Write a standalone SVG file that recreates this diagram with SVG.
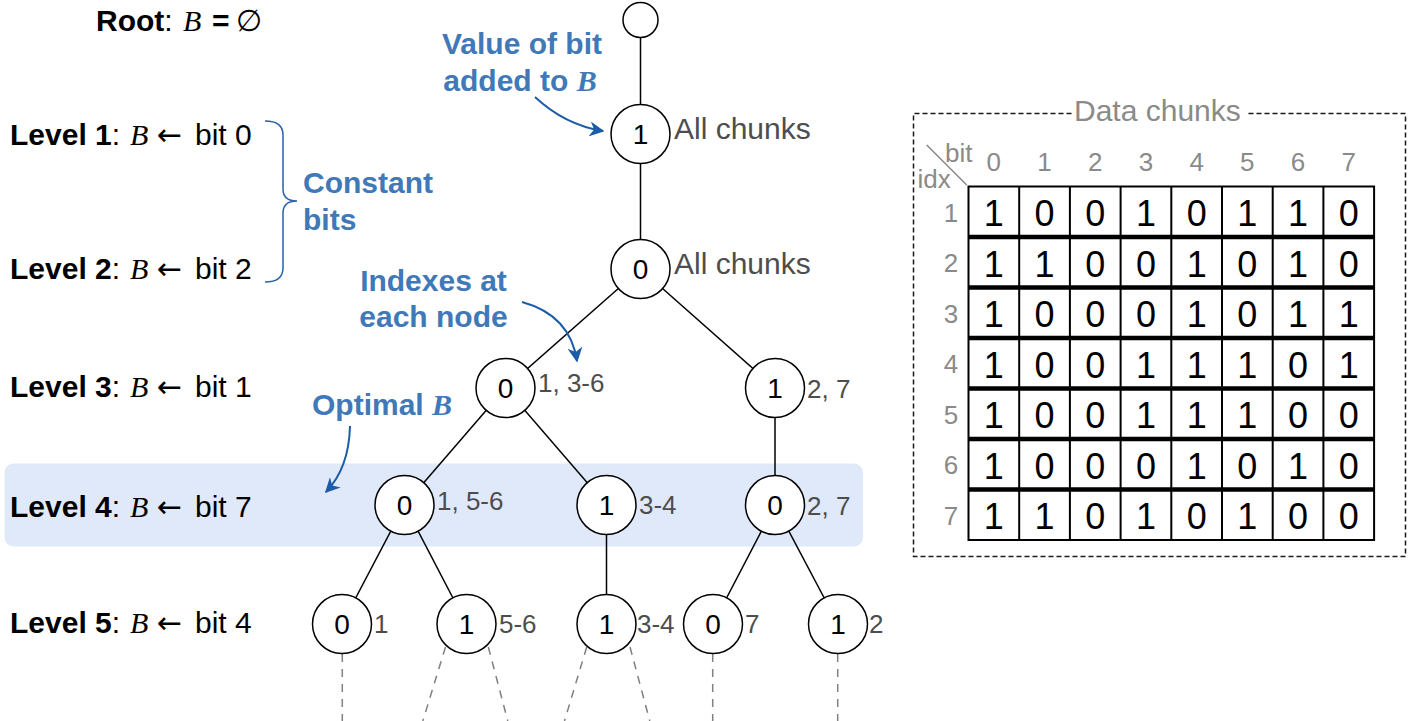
<svg xmlns="http://www.w3.org/2000/svg" width="1412" height="721" viewBox="0 0 1412 721">
<style>
text{font-family:"Liberation Sans",Arial,sans-serif}
.nd circle{fill:#fff;stroke:#000;stroke-width:1.5}
.dg{font-size:28px;text-anchor:middle;fill:#000}
.ix{font-size:26px;fill:#4d4d4d}
.ac{font-size:30px;fill:#4d4d4d}
.lv{font-size:30px;fill:#000}
.b{font-weight:bold}
.mi{font-family:"Liberation Serif","Times New Roman",serif;font-style:italic}
.sr{font-family:"DejaVu Serif","Liberation Serif",serif}
.ar{font-family:"DejaVu Sans",sans-serif;font-weight:normal}
.bl{font-size:30px;font-weight:bold;fill:#4078b8}
.edge{stroke:#000;stroke-width:1.5;fill:none}
.dash{stroke:#808080;stroke-width:1.5;stroke-dasharray:8 7;fill:none}
.ann{stroke:#1c5ca6;stroke-width:2;fill:none}
.gt{fill:#8a8a8a;font-size:26px}
.hd{text-anchor:middle}
.cd{font-size:36px;text-anchor:middle;fill:#000}
.grid{stroke:#000;stroke-width:2;fill:none}
.sep{stroke:#000;stroke-width:4.5}
</style>
<defs>
<marker id="arr" viewBox="0 0 10 10" refX="9" refY="5" markerWidth="15" markerHeight="15" markerUnits="userSpaceOnUse" orient="auto">
<path d="M0,0 L10,5 L0,10 L3,5 Z" fill="#1c5ca6"/>
</marker>
</defs>

<!-- highlight band -->
<rect id="optimal-band" x="4.5" y="463.5" width="858.5" height="83" rx="9" fill="#dfe9fa"/>

<!-- level labels -->
<g id="level-labels">
<text class="lv" x="96" y="31"><tspan class="b">Root</tspan>: <tspan class="mi" x="183">B</tspan><tspan class="b" x="212">=</tspan><tspan class="sr" x="236">∅</tspan></text>
<text class="lv" x="10" y="145"><tspan class="b">Level 1</tspan>:<tspan class="mi" x="130">B</tspan><tspan class="ar" x="157">←</tspan><tspan x="195">bit 0</tspan></text>
<text class="lv" x="10" y="279"><tspan class="b">Level 2</tspan>:<tspan class="mi" x="130">B</tspan><tspan class="ar" x="157">←</tspan><tspan x="195">bit 2</tspan></text>
<text class="lv" x="10" y="397"><tspan class="b">Level 3</tspan>:<tspan class="mi" x="130">B</tspan><tspan class="ar" x="157">←</tspan><tspan x="195">bit 1</tspan></text>
<text class="lv" x="10" y="517"><tspan class="b">Level 4</tspan>:<tspan class="mi" x="130">B</tspan><tspan class="ar" x="157">←</tspan><tspan x="195">bit 7</tspan></text>
<text class="lv" x="10" y="633"><tspan class="b">Level 5</tspan>:<tspan class="mi" x="130">B</tspan><tspan class="ar" x="157">←</tspan><tspan x="195">bit 4</tspan></text>
</g>

<!-- annotations -->
<g id="ann-constant">
<path d="M265,121 Q283,121 283,135 L283,189 Q283,201 297,201 Q283,201 283,213 L283,268 Q283,282 265,282" stroke="#2a62a8" stroke-width="1.5" fill="none"/>
<text class="bl" x="303" y="193">Constant</text>
<text class="bl" x="303" y="230">bits</text>
</g>
<g id="ann-value">
<text class="bl" x="522" y="54" text-anchor="middle">Value of bit</text>
<text class="bl" x="520" y="91" text-anchor="middle">added to <tspan class="mi">B</tspan></text>
</g>
<g id="ann-indexes">
<text class="bl" x="433.5" y="291" text-anchor="middle">Indexes at</text>
<text class="bl" x="433.5" y="327" text-anchor="middle">each node</text>
</g>
<g id="ann-optimal">
<text class="bl" x="312" y="415">Optimal <tspan class="mi">B</tspan></text>
</g>

<!-- connectors -->
<g id="connectors">
<line class="edge" x1="640.5" y1="20" x2="640.5" y2="134"/>
<line class="edge" x1="640.5" y1="134" x2="640.5" y2="269"/>
<line class="edge" x1="640.5" y1="269" x2="505.5" y2="388"/>
<line class="edge" x1="640.5" y1="269" x2="775" y2="388"/>
<line class="edge" x1="505.5" y1="388" x2="404.5" y2="505"/>
<line class="edge" x1="505.5" y1="388" x2="606.5" y2="505"/>
<line class="edge" x1="775" y1="388" x2="775" y2="505"/>
<line class="edge" x1="404.5" y1="505" x2="342" y2="624"/>
<line class="edge" x1="404.5" y1="505" x2="466.5" y2="624"/>
<line class="edge" x1="606.5" y1="505" x2="606.5" y2="624"/>
<line class="edge" x1="775" y1="505" x2="713" y2="624"/>
<line class="edge" x1="775" y1="505" x2="838" y2="624"/>
<line class="dash" x1="342.3" y1="654" x2="342.3" y2="721"/>
<line class="dash" x1="445.5" y1="647" x2="422.8" y2="721"/>
<line class="dash" x1="488.3" y1="647" x2="507.8" y2="721"/>
<line class="dash" x1="586.7" y1="647" x2="564.5" y2="721"/>
<line class="dash" x1="630" y1="647" x2="649.8" y2="721"/>
<line class="dash" x1="712.7" y1="654" x2="712.7" y2="721"/>
<line class="dash" x1="837.7" y1="654" x2="837.7" y2="721"/>
<path class="ann" d="M535,97 Q565,125 603,131" marker-end="url(#arr)"/>
<path class="ann" d="M522,302 Q570,315 577,361" marker-end="url(#arr)"/>
<path class="ann" d="M350,426 Q349,468 326,492" marker-end="url(#arr)"/>
</g>

<!-- nodes -->
<g id="node-root" class="nd"><circle cx="640.5" cy="20" r="17.5"/></g>
<g id="node-l1" class="nd"><circle cx="640.5" cy="134" r="29.5"/><text class="dg" x="640.5" y="144">1</text><text class="ac" x="674" y="139">All chunks</text></g>
<g id="node-l2" class="nd"><circle cx="640.5" cy="269" r="29.5"/><text class="dg" x="640.5" y="279">0</text><text class="ac" x="674" y="274">All chunks</text></g>
<g id="node-l3a" class="nd"><circle cx="505.5" cy="388" r="29.5"/><text class="dg" x="505.5" y="398">0</text><text class="ix" x="538" y="392">1, 3-6</text></g>
<g id="node-l3b" class="nd"><circle cx="775" cy="388" r="29.5"/><text class="dg" x="775" y="398">1</text><text class="ix" x="807" y="398">2, 7</text></g>
<g id="node-l4a" class="nd"><circle cx="404.5" cy="505" r="29.5"/><text class="dg" x="404.5" y="515">0</text><text class="ix" x="437" y="510">1, 5-6</text></g>
<g id="node-l4b" class="nd"><circle cx="606.5" cy="505" r="29.5"/><text class="dg" x="606.5" y="515">1</text><text class="ix" x="639" y="514">3-4</text></g>
<g id="node-l4c" class="nd"><circle cx="775" cy="505" r="29.5"/><text class="dg" x="775" y="515">0</text><text class="ix" x="807" y="515">2, 7</text></g>
<g id="node-l5a" class="nd"><circle cx="342" cy="624" r="29.5"/><text class="dg" x="342" y="634">0</text><text class="ix" x="374" y="633">1</text></g>
<g id="node-l5b" class="nd"><circle cx="466.5" cy="624" r="29.5"/><text class="dg" x="466.5" y="634">1</text><text class="ix" x="499" y="633">5-6</text></g>
<g id="node-l5c" class="nd"><circle cx="606.5" cy="624" r="29.5"/><text class="dg" x="606.5" y="634">1</text><text class="ix" x="637" y="633">3-4</text></g>
<g id="node-l5d" class="nd"><circle cx="713" cy="624" r="29.5"/><text class="dg" x="713" y="634">0</text><text class="ix" x="745" y="633">7</text></g>
<g id="node-l5e" class="nd"><circle cx="838" cy="624" r="29.5"/><text class="dg" x="838" y="634">1</text><text class="ix" x="869" y="633">2</text></g>

<!-- data chunks table -->
<g id="data-chunks">
<path d="M1071.5,113.5 H913.5 V556.5 H1405.5 V113.5 H1248.5" stroke="#1a1a1a" stroke-width="1.5" stroke-dasharray="5 3" fill="none"/>
<text x="1074" y="121" font-size="30" fill="#8a8a8a">Data chunks</text>
<line x1="926.7" y1="145" x2="966.7" y2="185" stroke="#8a8a8a" stroke-width="1.5"/>
<text class="gt" x="945" y="162">bit</text>
<text class="gt" x="917.5" y="188">idx</text>
<g class="gt hd">
<text x="993.85" y="171">0</text><text x="1044.55" y="171">1</text><text x="1095.25" y="171">2</text><text x="1145.95" y="171">3</text><text x="1196.65" y="171">4</text><text x="1247.35" y="171">5</text><text x="1298.05" y="171">6</text><text x="1348.75" y="171">7</text>
<text x="951" y="221.75">1</text><text x="951" y="272.25">2</text><text x="951" y="322.75">3</text><text x="951" y="373.25">4</text><text x="951" y="423.75">5</text><text x="951" y="474.25">6</text><text x="951" y="524.75">7</text>
</g>
<rect class="grid" x="968.5" y="186.5" width="405.6" height="353.5" fill="#fff"/>
<path class="grid" d="M1019.2,186.5V540 M1069.9,186.5V540 M1120.6,186.5V540 M1171.3,186.5V540 M1222,186.5V540 M1272.7,186.5V540 M1323.4,186.5V540"/>
<path class="sep" d="M968.5,237H1374.1 M968.5,287.5H1374.1 M968.5,338H1374.1 M968.5,388.5H1374.1 M968.5,439H1374.1 M968.5,489.5H1374.1"/>
<g class="cd">
<text x="993.85" y="226.25">1</text><text x="1044.55" y="226.25">0</text><text x="1095.25" y="226.25">0</text><text x="1145.95" y="226.25">1</text><text x="1196.65" y="226.25">0</text><text x="1247.35" y="226.25">1</text><text x="1298.05" y="226.25">1</text><text x="1348.75" y="226.25">0</text>
<text x="993.85" y="276.75">1</text><text x="1044.55" y="276.75">1</text><text x="1095.25" y="276.75">0</text><text x="1145.95" y="276.75">0</text><text x="1196.65" y="276.75">1</text><text x="1247.35" y="276.75">0</text><text x="1298.05" y="276.75">1</text><text x="1348.75" y="276.75">0</text>
<text x="993.85" y="327.25">1</text><text x="1044.55" y="327.25">0</text><text x="1095.25" y="327.25">0</text><text x="1145.95" y="327.25">0</text><text x="1196.65" y="327.25">1</text><text x="1247.35" y="327.25">0</text><text x="1298.05" y="327.25">1</text><text x="1348.75" y="327.25">1</text>
<text x="993.85" y="377.75">1</text><text x="1044.55" y="377.75">0</text><text x="1095.25" y="377.75">0</text><text x="1145.95" y="377.75">1</text><text x="1196.65" y="377.75">1</text><text x="1247.35" y="377.75">1</text><text x="1298.05" y="377.75">0</text><text x="1348.75" y="377.75">1</text>
<text x="993.85" y="428.25">1</text><text x="1044.55" y="428.25">0</text><text x="1095.25" y="428.25">0</text><text x="1145.95" y="428.25">1</text><text x="1196.65" y="428.25">1</text><text x="1247.35" y="428.25">1</text><text x="1298.05" y="428.25">0</text><text x="1348.75" y="428.25">0</text>
<text x="993.85" y="478.75">1</text><text x="1044.55" y="478.75">0</text><text x="1095.25" y="478.75">0</text><text x="1145.95" y="478.75">0</text><text x="1196.65" y="478.75">1</text><text x="1247.35" y="478.75">0</text><text x="1298.05" y="478.75">1</text><text x="1348.75" y="478.75">0</text>
<text x="993.85" y="529.25">1</text><text x="1044.55" y="529.25">1</text><text x="1095.25" y="529.25">0</text><text x="1145.95" y="529.25">1</text><text x="1196.65" y="529.25">0</text><text x="1247.35" y="529.25">1</text><text x="1298.05" y="529.25">0</text><text x="1348.75" y="529.25">0</text>
</g>
</g>
</svg>
